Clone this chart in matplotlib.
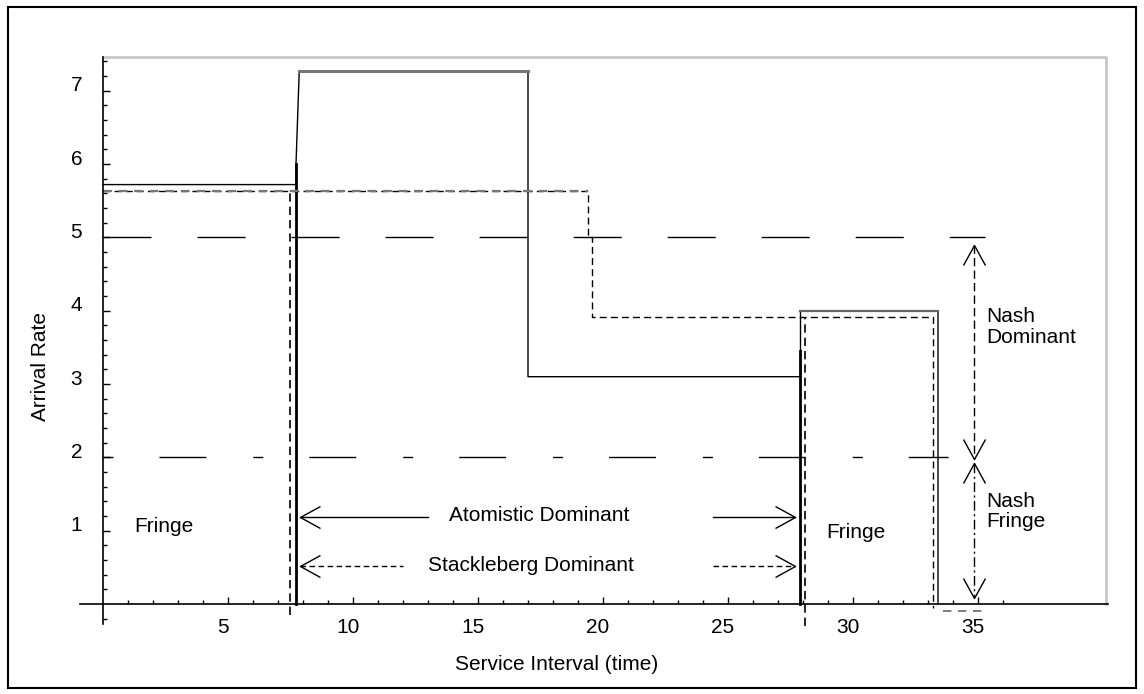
import numpy as np
import matplotlib
matplotlib.use('Agg')
import matplotlib.pyplot as plt
from matplotlib.path import Path
from matplotlib.patches import Rectangle
from matplotlib.transforms import ScaledTranslation

# step curves
atomistic_x = [0, 7.72, 7.72, 7.85, 17.0, 17.0, 27.9, 27.9, 33.4, 33.4]
atomistic_y = [5.72, 5.72, 6.0, 7.27, 7.27, 3.1, 3.1, 4.0, 4.0, 0]
stackelberg_x = [0, 19.4, 19.4, 19.55, 19.55, 33.2, 33.2]
stackelberg_y = [5.63, 5.63, 5.0, 5.0, 3.92, 3.92, -0.05]

# region boundaries
atomistic_edges = [7.72, 27.9]
atomistic_edge_tops = [6.0, 3.45]
stackelberg_edges = [7.48, 28.1]
stackelberg_edge_tops = [5.63, 3.92]
stackelberg_edge_bottoms = [-0.15, -0.3]

nash_dominant = 5.0
nash_fringe = 2.0
nash_dominant_end = 35.3
nash_fringe_end = 33.8

x_labels = [5, 10, 15, 20, 25, 30, 35]
y_labels = [1, 2, 3, 4, 5, 6, 7]

FONT = 'Liberation Sans'
FS = 15


def head(ax, x, y, angle, ms=28.8):
    # open "V" arrow head with its tip on (x, y)
    verts = np.array([(1, 0.55), (0, 0), (1, -0.55)])
    a = np.deg2rad(angle)
    rot = np.array([[np.cos(a), -np.sin(a)], [np.sin(a), np.cos(a)]])
    verts = verts @ rot.T
    path = Path(verts, [Path.MOVETO, Path.LINETO, Path.LINETO])
    ax.plot([x], [y], marker=path, ms=ms, mfc='none', mec='black', mew=1,
            linestyle='none', clip_on=False)


fig = plt.figure(figsize=(11.44, 6.94), dpi=100)
W, H = 1144, 694
ax = fig.add_axes([80 / W, (H - 624) / H, (1108 - 80) / W, (624 - 57) / H])
ax.set_xlim(-0.92, 40.2)
ax.set_ylim(-0.273, 7.46)

ax.spines['left'].set_position(('data', 0))
ax.spines['bottom'].set_position(('data', 0))
ax.spines['top'].set_visible(False)
ax.spines['right'].set_visible(False)
for s in ['left', 'bottom']:
    ax.spines[s].set_linewidth(1.2)

# light grey frame
ax.plot([0, 40.12, 40.12], [7.46, 7.46, 0], color='#c8c8c8', lw=2, clip_on=False)

ax.set_xticks(x_labels)
ax.set_xticklabels([str(v) for v in x_labels], fontsize=FS, family=FONT)
ax.set_xticks([v for v in range(1, 37) if v % 5 != 0], minor=True)
ax.set_yticks(y_labels)
ax.set_yticklabels([str(v) for v in y_labels], fontsize=FS, family=FONT)
ax.set_yticks([round(v, 1) for v in np.arange(-0.2, 7.41, 0.2)
               if abs(v - round(v)) > 0.01], minor=True)
ax.tick_params(which='major', direction='in', length=5, width=1)
ax.tick_params(which='minor', direction='in', length=3, width=1)
ax.tick_params(axis='x', which='major', pad=10)
ax.tick_params(axis='y', which='major', pad=15)

dx = ScaledTranslation(-5 / 100, 0, fig.dpi_scale_trans)
for lab in ax.get_xticklabels():
    lab.set_transform(lab.get_transform() + dx)
dy = ScaledTranslation(0, 7 / 100, fig.dpi_scale_trans)
for lab in ax.get_yticklabels():
    lab.set_transform(lab.get_transform() + dy)

# Nash thresholds
ax.plot([0, nash_dominant_end], [nash_dominant] * 2, color='black', lw=1,
        linestyle=(0, (34.6, 33.1)))
ax.plot([0, nash_fringe_end], [nash_fringe] * 2, color='black', lw=1,
        linestyle=(0, (7.2, 33.1, 33.8, 33.8)))

# atomistic curve
ax.plot(atomistic_x, atomistic_y, color='black', lw=1)
ax.plot(atomistic_x[3:5], atomistic_y[3:5], color='#777777', lw=2.2)
ax.plot(atomistic_x[7:9], atomistic_y[7:9], color='#666666', lw=1.6)
for x, top in zip(atomistic_edges, atomistic_edge_tops):
    ax.plot([x, x], [0, top], color='black', lw=2)

# stackelberg curve
ax.plot(stackelberg_x, stackelberg_y, color='black', lw=1, linestyle=(0, (5, 3)))
ax.plot(stackelberg_x[:2], stackelberg_y[:2], color='#777777', lw=1.6,
        linestyle=(0, (4, 3)))
for x, top, bot in zip(stackelberg_edges, stackelberg_edge_tops, stackelberg_edge_bottoms):
    ax.plot([x, x], [bot, top], color='black', lw=1.2, linestyle=(0, (5, 3)), clip_on=False)

# horizontal region arrows
atom_y, stack_y = 1.18, 0.52
ax.plot([7.88, 13.0], [atom_y] * 2, color='black', lw=1)
ax.plot([24.4, 27.68], [atom_y] * 2, color='black', lw=1)
ax.plot([7.88, 12.0], [stack_y] * 2, color='black', lw=1, linestyle=(0, (4, 2.5)))
ax.plot([24.4, 27.68], [stack_y] * 2, color='black', lw=1, linestyle=(0, (4, 2.5)))
for y in [atom_y, stack_y]:
    head(ax, 7.88, y, 0)
    head(ax, 27.68, y, 180)
ax.text(17.44, 1.2, 'Atomistic Dominant', fontsize=FS, family=FONT, ha='center', va='center')
ax.text(17.12, 0.53, 'Stackleberg Dominant', fontsize=FS, family=FONT, ha='center', va='center')

# vertical Nash arrows
nx = 34.85
ax.plot([nx, nx], [4.9, 1.98], color='black', lw=1, linestyle=(0, (6, 3)))
head(ax, nx, 4.9, 270)
head(ax, nx, 1.98, 90)
ax.plot([nx, nx], [1.92, 0.08], color='black', lw=1, linestyle=(0, (7, 2.5, 1.5, 2.5)))
head(ax, nx, 1.92, 270)
head(ax, nx, 0.08, 90)
ax.plot([33.6, 35.4], [-0.1, -0.1], color='#666666', lw=1.2, linestyle=(0, (5, 4)),
        clip_on=False)

ax.text(35.32, 3.78, 'Nash\nDominant', fontsize=FS, family=FONT, ha='left', va='center',
        linespacing=1.1)
ax.text(35.32, 1.26, 'Nash\nFringe', fontsize=FS, family=FONT, ha='left', va='center',
        linespacing=1.1)
ax.text(1.24, 1.05, 'Fringe', fontsize=FS, family=FONT, ha='left', va='center')
ax.text(28.92, 0.97, 'Fringe', fontsize=FS, family=FONT, ha='left', va='center')

fig.text(556.5 / W, 1 - 665 / H, 'Service Interval (time)', fontsize=FS, family=FONT,
         ha='center', va='center')
fig.text(40 / W, 1 - 367 / H, 'Arrival Rate', fontsize=FS, family=FONT, rotation=90,
         ha='center', va='center')

fig.patches.append(Rectangle((8 / W, (H - 688) / H), (1136 - 8) / W, (688 - 7) / H,
                             transform=fig.transFigure, fill=False, lw=1.5,
                             edgecolor='black'))

plt.savefig('out.png', dpi=100)
